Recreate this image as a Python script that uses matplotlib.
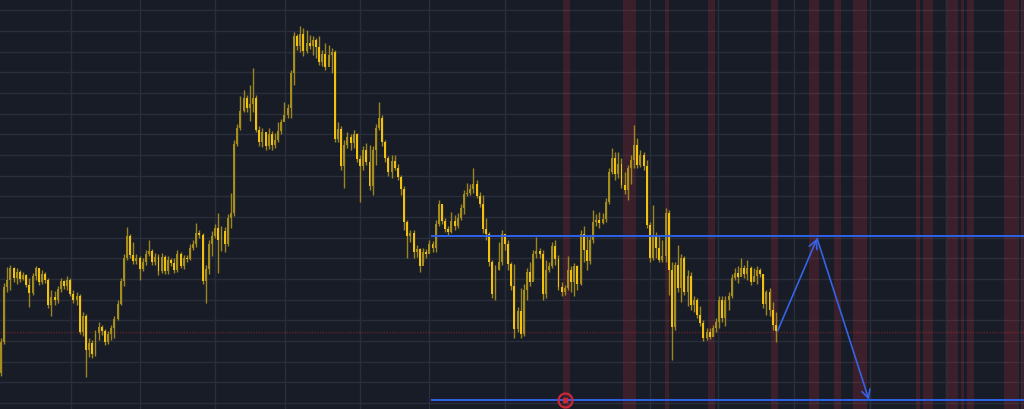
import numpy as np
import matplotlib
matplotlib.use("Agg")
import matplotlib.pyplot as plt

# precio de apertura de la primera vela (las demas abren en el cierre anterior)
open0 = 37

close = [68, 123, 130, 142, 132, 138, 131, 135, 125, 117, 134, 142, 128, 136, 130, 105, 113, 110, 121, 129,
         124, 130, 116, 110, 114, 78, 94, 60, 67, 56, 77, 83, 79, 68, 76, 82, 91, 106, 129, 152,
         174, 155, 149, 152, 141, 148, 156, 159, 148, 153, 139, 153, 139, 150, 147, 140, 156, 144, 152, 151,
         162, 166, 177, 175, 129, 141, 166, 174, 182, 170, 179, 166, 192, 197, 266, 282, 299, 312, 302, 306,
         312, 280, 268, 278, 264, 276, 265, 270, 279, 288, 295, 302, 337, 374, 364, 376, 359, 367, 364, 370,
         363, 348, 356, 343, 355, 358, 271, 281, 244, 265, 273, 267, 276, 251, 244, 260, 248, 224, 260, 282,
         292, 268, 252, 238, 249, 242, 233, 221, 188, 174, 177, 158, 161, 144, 158, 156, 166, 162, 186, 206,
         189, 181, 178, 189, 184, 192, 202, 216, 217, 221, 226, 214, 206, 181, 176, 148, 116, 140, 148, 176,
         166, 146, 124, 81, 99, 76, 120, 138, 128, 156, 159, 156, 116, 140, 144, 164, 151, 123, 118, 122,
         140, 128, 144, 126, 176, 160, 149, 170, 188, 190, 187, 191, 208, 238, 252, 236, 246, 225, 220, 242,
         250, 265, 245, 255, 244, 185, 152, 174, 162, 150, 154, 197, 140, 83, 145, 122, 152, 118, 134, 105,
         110, 95, 87, 72, 78, 73, 82, 88, 110, 92, 110, 114, 132, 137, 133, 142, 136, 142, 128, 134,
         140, 136, 106, 118, 100, 85, 79]

high = [72, 127, 143, 145, 143, 142, 140, 138, 136, 132, 137, 144, 142, 140, 138, 132, 120, 119, 124, 132,
        130, 134, 132, 120, 118, 116, 98, 96, 72, 70, 80, 88, 85, 81, 79, 85, 94, 110, 132, 156,
        183, 176, 168, 156, 154, 152, 160, 170, 161, 157, 156, 157, 155, 154, 152, 152, 160, 158, 155, 155,
        166, 170, 187, 180, 177, 145, 170, 179, 186, 197, 184, 183, 196, 217, 270, 286, 314, 320, 315, 325,
        342, 315, 284, 282, 276, 282, 279, 277, 288, 291, 308, 306, 340, 378, 376, 384, 382, 380, 375, 374,
        372, 374, 360, 367, 365, 362, 360, 288, 284, 270, 278, 276, 280, 277, 255, 264, 267, 265, 264, 286,
        308, 295, 270, 254, 255, 255, 246, 235, 224, 190, 180, 180, 165, 162, 162, 161, 170, 169, 190, 210,
        205, 192, 184, 198, 195, 197, 206, 220, 227, 226, 242, 230, 218, 215, 192, 178, 150, 145, 168, 180,
        173, 170, 148, 146, 103, 122, 126, 142, 148, 160, 173, 162, 160, 150, 148, 168, 170, 155, 128, 125,
        154, 144, 147, 145, 180, 184, 174, 174, 200, 196, 198, 197, 212, 242, 262, 258, 258, 252, 238, 245,
        255, 285, 272, 260, 258, 250, 188, 205, 178, 175, 170, 202, 200, 148, 148, 165, 156, 154, 140, 138,
        114, 112, 104, 90, 82, 82, 85, 92, 114, 114, 114, 118, 136, 142, 144, 152, 145, 150, 144, 142,
        144, 142, 136, 120, 122, 108, 98]

low = [34, 66, 118, 120, 128, 126, 128, 130, 123, 103, 115, 130, 125, 126, 127, 102, 94, 105, 107, 118,
       121, 120, 114, 107, 105, 76, 74, 33, 53, 52, 54, 70, 75, 65, 66, 70, 72, 90, 105, 124,
       150, 152, 146, 146, 130, 139, 145, 154, 145, 145, 135, 137, 136, 136, 144, 137, 138, 142, 141, 148,
       150, 160, 163, 172, 126, 107, 136, 154, 172, 137, 159, 158, 164, 182, 194, 264, 280, 298, 298, 289,
       298, 278, 264, 263, 260, 261, 260, 262, 268, 276, 292, 292, 292, 325, 360, 358, 354, 357, 361, 355,
       352, 345, 344, 340, 350, 337, 268, 268, 240, 222, 262, 260, 262, 248, 208, 240, 245, 220, 215, 245,
       280, 264, 248, 234, 232, 240, 230, 215, 180, 152, 168, 152, 153, 138, 148, 152, 157, 158, 158, 184,
       186, 178, 174, 177, 180, 182, 190, 196, 214, 215, 217, 212, 203, 177, 170, 144, 112, 110, 140, 145,
       160, 140, 120, 72, 78, 72, 74, 110, 124, 130, 152, 152, 110, 112, 138, 142, 145, 120, 114, 115,
       120, 118, 114, 120, 125, 148, 140, 146, 167, 184, 182, 186, 188, 206, 236, 230, 232, 222, 216, 210,
       226, 242, 242, 243, 240, 182, 148, 150, 152, 148, 148, 148, 115, 50, 80, 118, 108, 115, 104, 100,
       98, 92, 84, 69, 70, 71, 74, 78, 82, 88, 84, 100, 112, 130, 127, 134, 132, 130, 125, 129,
       126, 133, 102, 95, 94, 80, 68]

# zonas marcadas en rojo (indices de vela)
zonas = [(178.5, 180.5), (197.5, 201.5), (210.7, 212.0), (224.5, 226.7), (244.6, 246.7),
         (256.6, 259.8), (264.6, 266.8), (270.6, 274.8), (290.6, 291.8), (292.6, 295.8),
         (300.5, 303.9), (304.7, 305.9), (306.7, 308.8), (318.6, 323.1), (324.2, 325.0)]

# niveles horizontales y proyeccion
nivel_alto = 173.7
nivel_bajo = 9.7
inicio_niveles = 136.8
proy_x = [246.6, 259.1, 275.6]
proy_y = [79.3, 171.5, 10.0]
marca_x, marca_y = 179.0, 9.7
precio_actual = 78

# lineas verticales de la grilla (fechas)
fechas = [22.1, 44.0, 68.0, 90.2, 114.1, 136.0, 160.1, 205.9, 227.7, 251.8, 276.0, 299.9, 324.0]

bg = "#181c27"
fig = plt.figure(figsize=(10.24, 4.09), dpi=100, facecolor=bg)
ax = fig.add_axes([0, 0, 1, 1])
ax.set_facecolor(bg)

for a, b in zonas:
    ax.axvspan(a, b, color="#f23645", alpha=0.16, lw=0, zorder=1)

close = np.array(close, dtype=float)
high = np.array(high, dtype=float)
low = np.array(low, dtype=float)
opens = np.concatenate([[open0], close[:-1]])
idx = np.arange(len(close))
sube = close >= opens

ax.vlines(idx, low, high, color="#9c8520", lw=1, zorder=3)
alto = np.maximum(np.abs(close - opens), 0.9)
base = np.minimum(close, opens)
ax.bar(idx[sube], alto[sube], bottom=base[sube], width=0.62, color="#a68e1c", lw=0, zorder=4)
ax.bar(idx[~sube], alto[~sube], bottom=base[~sube], width=0.62, color="#f2c10d", lw=0, zorder=5)

ax.axhline(precio_actual, color="#f23645", alpha=0.3, lw=1, ls=(0, (1, 1)), zorder=2)

azul = "#2e62e8"
ax.plot([inicio_niveles, 400], [nivel_alto, nivel_alto], color=azul, lw=1.4, zorder=6)
ax.plot([inicio_niveles, 400], [nivel_bajo, nivel_bajo], color=azul, lw=1.4, zorder=6)

for i in range(len(proy_x) - 1):
    ax.annotate("", xy=(proy_x[i + 1], proy_y[i + 1]), xytext=(proy_x[i], proy_y[i]),
                arrowprops=dict(arrowstyle="->,head_length=0.6,head_width=0.3", color="#3563e6", lw=1.2,
                                shrinkA=0, shrinkB=0), zorder=7)

ax.plot(marca_x, marca_y, marker="o", ms=10, mfc="none", mec="#c9283a", mew=1.6, zorder=8)
ax.plot(marca_x, marca_y, marker="s", ms=3, color="#c9283a", zorder=8)

ax.set_xlim(-0.32, 324.8)
ax.set_ylim(1, 410)
ax.set_xticks(fechas)
ax.set_yticks(np.arange(399.7, 0, -20.67))
ax.grid(True, color="#2a2e3a", lw=1, zorder=0)
ax.set_axisbelow(True)
ax.tick_params(length=0, labelbottom=False, labelleft=False)
for s in ax.spines.values():
    s.set_visible(False)

fig.savefig("out.png", dpi=100, facecolor=bg)
